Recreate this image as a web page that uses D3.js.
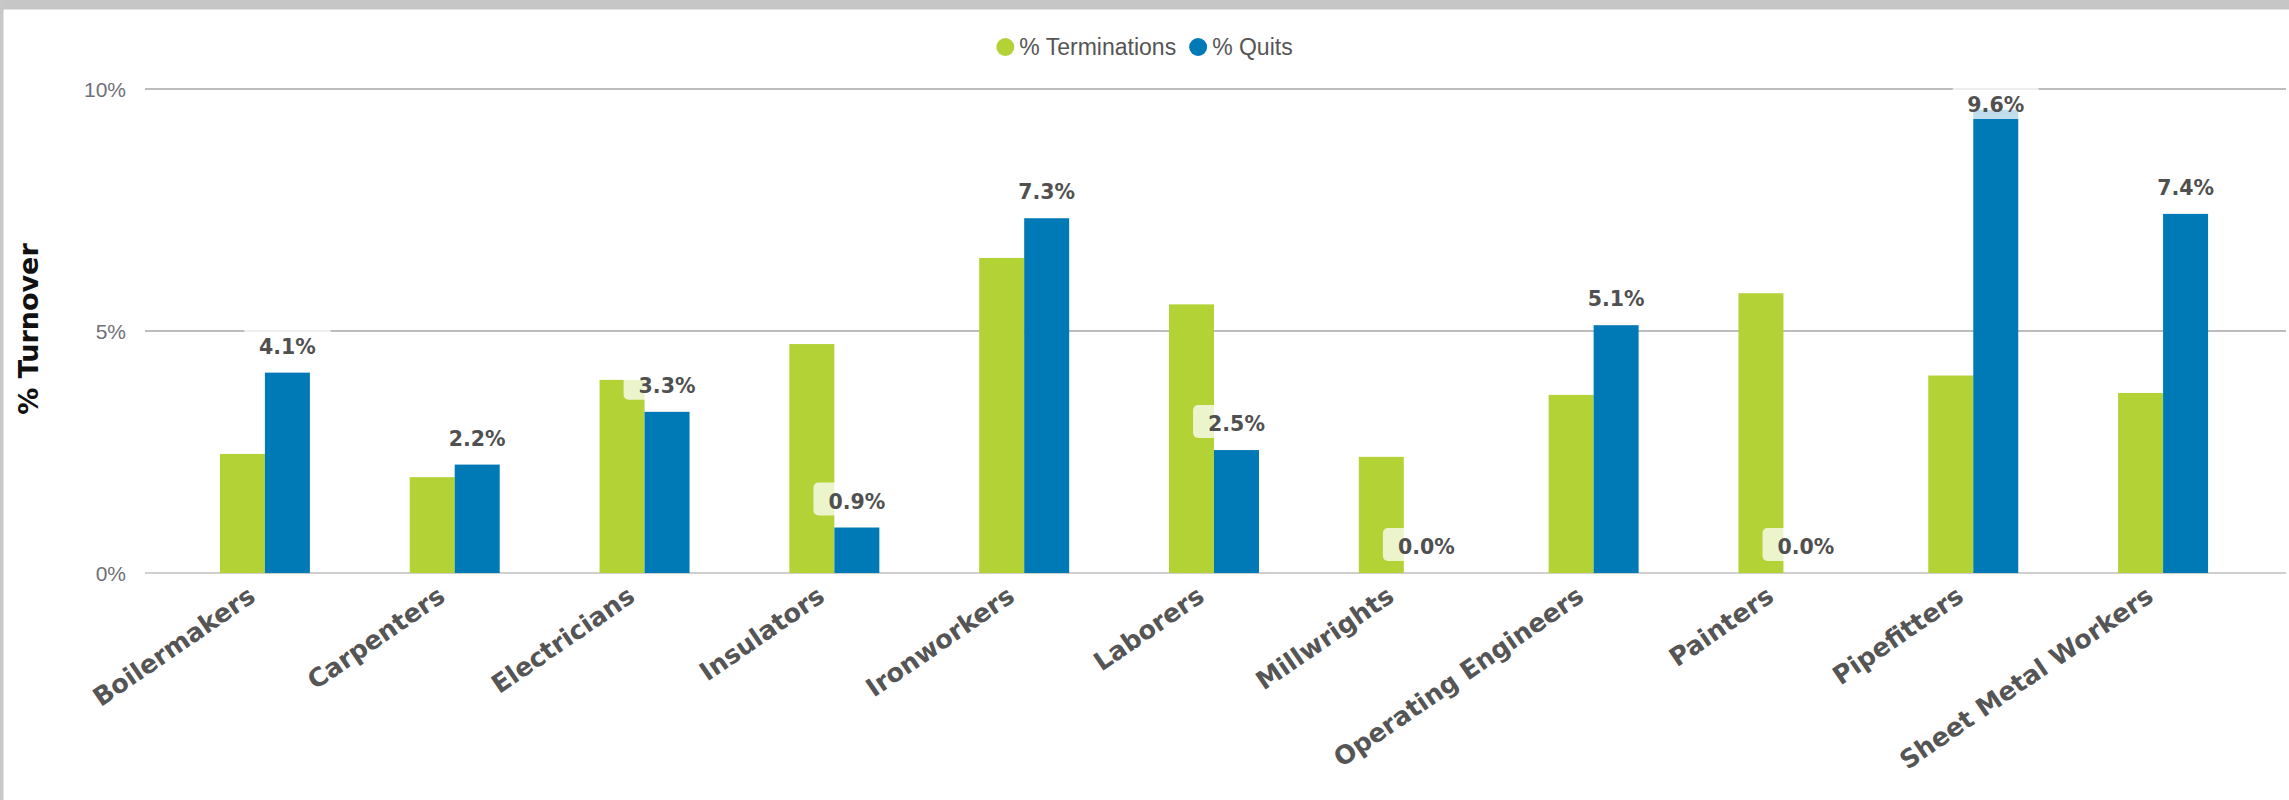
<!DOCTYPE html>
<html>
<head>
<meta charset="utf-8">
<script src="https://cdn.jsdelivr.net/npm/d3@7"></script>
<style>
  html, body { margin: 0; padding: 0; background: #fff; }
  svg { display: block; }
</style>
</head>
<body>
<svg id="chart" width="2289" height="800"></svg>
<script>
// ---- data ----
const categories = ["Boilermakers", "Carpenters", "Electricians", "Insulators", "Ironworkers",
  "Laborers", "Millwrights", "Operating Engineers", "Painters", "Pipefitters", "Sheet Metal Workers"];
const terminations = [2.46, 1.98, 3.99, 4.73, 6.51, 5.55, 2.40, 3.68, 5.78, 4.08, 3.72];
const quits = [4.14, 2.24, 3.33, 0.94, 7.33, 2.54, 0.0, 5.12, 0.0, 9.57, 7.42];
const seriesNames = ["% Terminations", "% Quits"];
const seriesColors = ["#b2d235", "#007ab7"];
const yTicks = [0, 5, 10];
const yTitle = "% Turnover";

// ---- layout ----
const W = 2289, H = 800;
const plotLeft = 145, plotRight = 2286, plotTop = 89, plotBottom = 573;

const svg = d3.select("#chart");
svg.append("rect").attr("x", 0).attr("y", 0).attr("width", W).attr("height", H).attr("fill", "#fff");
// frame bands
svg.append("rect").attr("x", 0).attr("y", 0).attr("width", W).attr("height", 9.5).attr("fill", "#c6c6c6");
svg.append("rect").attr("x", 0).attr("y", 0).attr("width", 3.5).attr("height", H).attr("fill", "#c8c8c8");

const x0 = d3.scaleBand().domain(categories).range([170, 2258]).paddingInner(0.526).paddingOuter(0.263);
const x1 = d3.scaleBand().domain(seriesNames).range([0, x0.bandwidth()]);
const y = d3.scaleLinear().domain([0, 10]).range([plotBottom, plotTop]);

// gridlines
const grid = svg.append("g");
grid.selectAll("line").data(yTicks).join("line")
  .attr("x1", plotLeft).attr("x2", plotRight)
  .attr("y1", d => y(d)).attr("y2", d => y(d))
  .attr("stroke", d => d === 0 ? "#cfcfcf" : "#bdbdbd")
  .attr("stroke-width", 2);

// y axis labels
const yAxis = d3.axisLeft(y).tickValues(yTicks).tickFormat(d => d + "%").tickSize(0).tickPadding(0);
const yg = svg.append("g").attr("transform", `translate(126,0)`).call(yAxis);
yg.select(".domain").remove();
yg.selectAll("text")
  .attr("font-family", "'Liberation Sans', Arial, sans-serif")
  .attr("font-size", 21).attr("fill", "#707078").attr("dy", "0.35em");

// y title
svg.append("text")
  .attr("transform", "translate(28,329) rotate(-90)")
  .attr("text-anchor", "middle").attr("dominant-baseline", "central")
  .attr("font-family", "'DejaVu Sans', Verdana, sans-serif").attr("font-weight", "bold")
  .attr("font-size", 27).attr("fill", "#111")
  .text(yTitle);

// bars
const rows = categories.map((c, i) => ({ cat: c, vals: [terminations[i], quits[i]] }));
const groups = svg.append("g").selectAll("g").data(rows).join("g")
  .attr("transform", d => `translate(${x0(d.cat)},0)`);
groups.selectAll("rect").data(d => d.vals.map((v, k) => ({ v, k }))).join("rect")
  .attr("x", d => x1(seriesNames[d.k]))
  .attr("width", x1.bandwidth())
  .attr("y", d => y(d.v))
  .attr("height", d => y(0) - y(d.v))
  .attr("fill", d => seriesColors[d.k]);

// data labels for quits
const labG = svg.append("g");
rows.forEach((d, i) => {
  const v = quits[i];
  const cx = x0(d.cat) + x1(seriesNames[1]) + x1.bandwidth() / 2;
  const g = labG.append("g");
  const rect = g.append("rect");
  const t = g.append("text")
    .attr("text-anchor", "middle")
    .attr("font-family", "'DejaVu Sans', Verdana, sans-serif").attr("font-weight", "bold")
    .attr("font-size", 20.5).attr("fill", "#505050")
    .text(v.toFixed(1) + "%");
  const tw = t.node().getComputedTextLength();
  const bw = tw + 30, bh = 33;
  let boxBottom = y(v) - 12;
  let boxTop = boxBottom - bh;
  if (boxTop < plotTop - 3) { boxTop = plotTop - 3; boxBottom = boxTop + bh; }
  rect.attr("x", cx - bw / 2).attr("y", boxTop).attr("width", bw).attr("height", bh)
    .attr("rx", 5).attr("fill", "rgba(255,255,255,0.75)");
  t.attr("x", cx).attr("y", boxBottom - 7);
});

// x labels
svg.append("g").selectAll("text").data(categories).join("text")
  .attr("transform", d => `translate(${x0(d) + x0.bandwidth() / 2 - 8},600) rotate(-34.5)`)
  .attr("text-anchor", "end")
  .attr("font-family", "'DejaVu Sans', Verdana, sans-serif").attr("font-weight", "bold")
  .attr("font-size", 25.5).attr("fill", "#555")
  .text(d => d);

// legend
const leg = svg.append("g");
const items = seriesNames.map((n, k) => {
  const g = leg.append("g");
  g.append("circle").attr("r", 9).attr("cx", 9).attr("cy", 0).attr("fill", seriesColors[k]);
  const t = g.append("text").attr("x", 23).attr("y", 8)
    .attr("font-family", "'Liberation Sans', Arial, sans-serif")
    .attr("font-size", 23).attr("fill", "#555").text(n);
  return { g, w: 23 + t.node().getComputedTextLength() };
});
const gap = 13;
const total = d3.sum(items, d => d.w) + gap * (items.length - 1);
let lx = W / 2 - total / 2;
items.forEach(it => { it.g.attr("transform", `translate(${lx},47)`); lx += it.w + gap; });
</script>
</body>
</html>
